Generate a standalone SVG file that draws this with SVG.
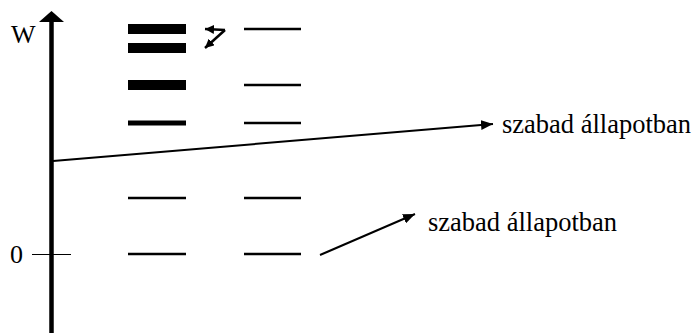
<svg xmlns="http://www.w3.org/2000/svg" width="694" height="333" viewBox="0 0 694 333">
<defs>
<marker id="ah" viewBox="0 0 12 10" refX="12" refY="5" markerWidth="12" markerHeight="10" markerUnits="userSpaceOnUse" orient="auto">
<path d="M0,0 L12,5 L0,10 z" fill="#000"/>
</marker>
<marker id="ahs" viewBox="0 0 10 10" refX="10" refY="5" markerWidth="9" markerHeight="9" markerUnits="userSpaceOnUse" orient="auto">
<path d="M0,0 L10,5 L0,10 z" fill="#000"/>
</marker>
</defs>
<rect width="694" height="333" fill="#fff"/>
<g id="axis">
<line x1="51.5" y1="333" x2="51.5" y2="20" stroke="#000" stroke-width="4.5"/>
<path d="M39,22 L51.5,11 L64,22 z" fill="#000"/>
<line x1="32" y1="254.5" x2="71" y2="254.5" stroke="#000" stroke-width="1"/>
<text x="11" y="43" font-family="Liberation Serif" font-size="26">W</text>
<text x="10" y="263" font-family="Liberation Serif" font-size="26">0</text>
</g>
<g id="levels-left" stroke="#000">
<line stroke-width="10" x1="128" y1="29" x2="186" y2="29"/>
<line stroke-width="10" x1="128" y1="48" x2="186" y2="48"/>
<line stroke-width="10" x1="128" y1="85" x2="186" y2="85"/>
<line stroke-width="5" x1="128" y1="123" x2="186" y2="123"/>
<line stroke-width="2.5" x1="128" y1="198" x2="186" y2="198"/>
<line stroke-width="2.5" x1="128" y1="254" x2="186" y2="254"/>
</g>
<g id="levels-right" stroke="#000" stroke-width="2.5">
<line x1="244" y1="29" x2="301" y2="29"/>
<line x1="244" y1="85" x2="301" y2="85"/>
<line x1="244" y1="123" x2="301" y2="123"/>
<line x1="244" y1="198" x2="301" y2="198"/>
<line x1="244" y1="254" x2="301" y2="254"/>
</g>
<g id="connectors" stroke="#000" fill="none">
<line stroke-width="2" x1="53" y1="161" x2="493" y2="124" marker-end="url(#ah)"/>
<line stroke-width="2" x1="320" y1="255" x2="415" y2="214" marker-end="url(#ah)"/>
<line stroke-width="2.5" x1="225" y1="30" x2="205" y2="29" marker-end="url(#ahs)"/>
<line stroke-width="2.5" x1="225" y1="30" x2="205" y2="48" marker-end="url(#ahs)"/>
</g>
<g id="label-1"><text x="502" y="133" font-family="Liberation Serif" font-size="26.5">szabad állapotban</text></g>
<g id="label-2"><text x="428" y="231" font-family="Liberation Serif" font-size="26.5">szabad állapotban</text></g>
</svg>
